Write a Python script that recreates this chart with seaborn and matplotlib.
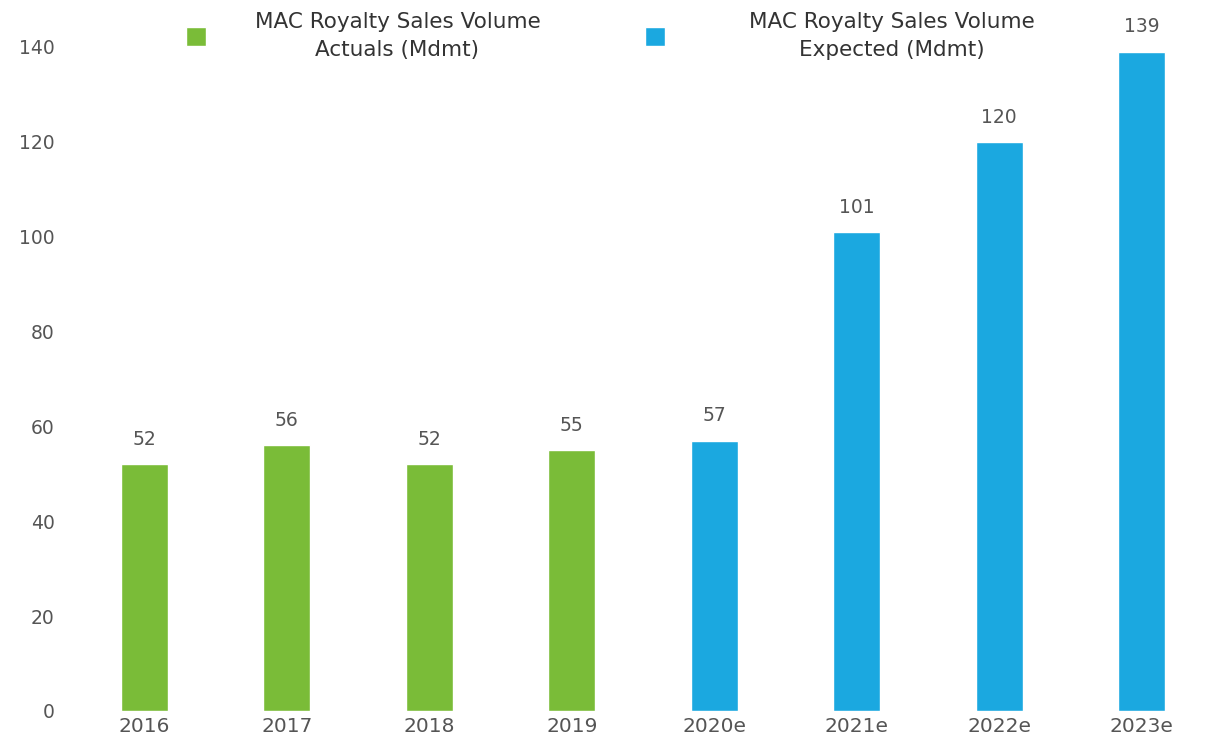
import matplotlib
matplotlib.use("Agg")
import matplotlib.pyplot as plt
import seaborn as sns
import pandas as pd
from matplotlib.patches import Patch

years = ["2016", "2017", "2018", "2019", "2020e", "2021e", "2022e", "2023e"]
volumes = [52, 56, 52, 55, 57, 101, 120, 139]
kinds = ["Actuals", "Actuals", "Actuals", "Actuals",
         "Expected", "Expected", "Expected", "Expected"]
legend_labels = ["MAC Royalty Sales Volume\nActuals (Mdmt)",
                 "MAC Royalty Sales Volume\nExpected (Mdmt)"]
y_ticks = [0, 20, 40, 60, 80, 100, 120, 140]

GREEN = "#7AbC38"
BLUE = "#1BA8E0"
TEXT = "#555555"

sns.set_theme(style="white")
plt.rcParams["font.family"] = ["DejaVu Sans"]

df = pd.DataFrame({"year": years, "volume": volumes, "kind": kinds})

fig = plt.figure(figsize=(12.27, 7.53), dpi=100)
W, H = 1227, 753
ax = fig.add_axes([59 / W, 42 / H, (W - 59) / W, 711 / H])

sns.barplot(data=df, x="year", y="volume", hue="kind", dodge=False,
            palette={"Actuals": GREEN, "Expected": BLUE},
            width=0.33, ax=ax, legend=False, saturation=1)

for cont in ax.containers:
    ax.bar_label(cont, fmt="%d", padding=11, fontsize=13.5, color=TEXT)

ax.set_xlim(-0.6, 7.6)
ax.set_ylim(0, 149.9)
ax.set_yticks(y_ticks)
ax.set_xlabel("")
ax.set_ylabel("")
ax.tick_params(axis="y", labelsize=13.5, labelcolor=TEXT, length=0, pad=3)
ax.tick_params(axis="x", labelsize=14.5, labelcolor=TEXT, length=0, pad=4)
sns.despine(ax=ax, left=True, bottom=True)

# Two separate legend entries placed along the top
leg_kw = dict(loc="center", frameon=False, fontsize=15.5, handlelength=0.95,
              handleheight=0.95, labelcolor="#333333")
leg1 = fig.legend(handles=[Patch(facecolor=GREEN, label=legend_labels[0])],
                  bbox_to_anchor=(363 / W, 1 - 36 / H), handletextpad=2.25,
                  **leg_kw)
leg2 = fig.legend(handles=[Patch(facecolor=BLUE, label=legend_labels[1])],
                  bbox_to_anchor=(840 / W, 1 - 36 / H), handletextpad=3.9,
                  **leg_kw)
for leg in (leg1, leg2):
    for t in leg.get_texts():
        t.set_multialignment("center")
        t.set_linespacing(1.45)

fig.savefig("out.png", dpi=100)
